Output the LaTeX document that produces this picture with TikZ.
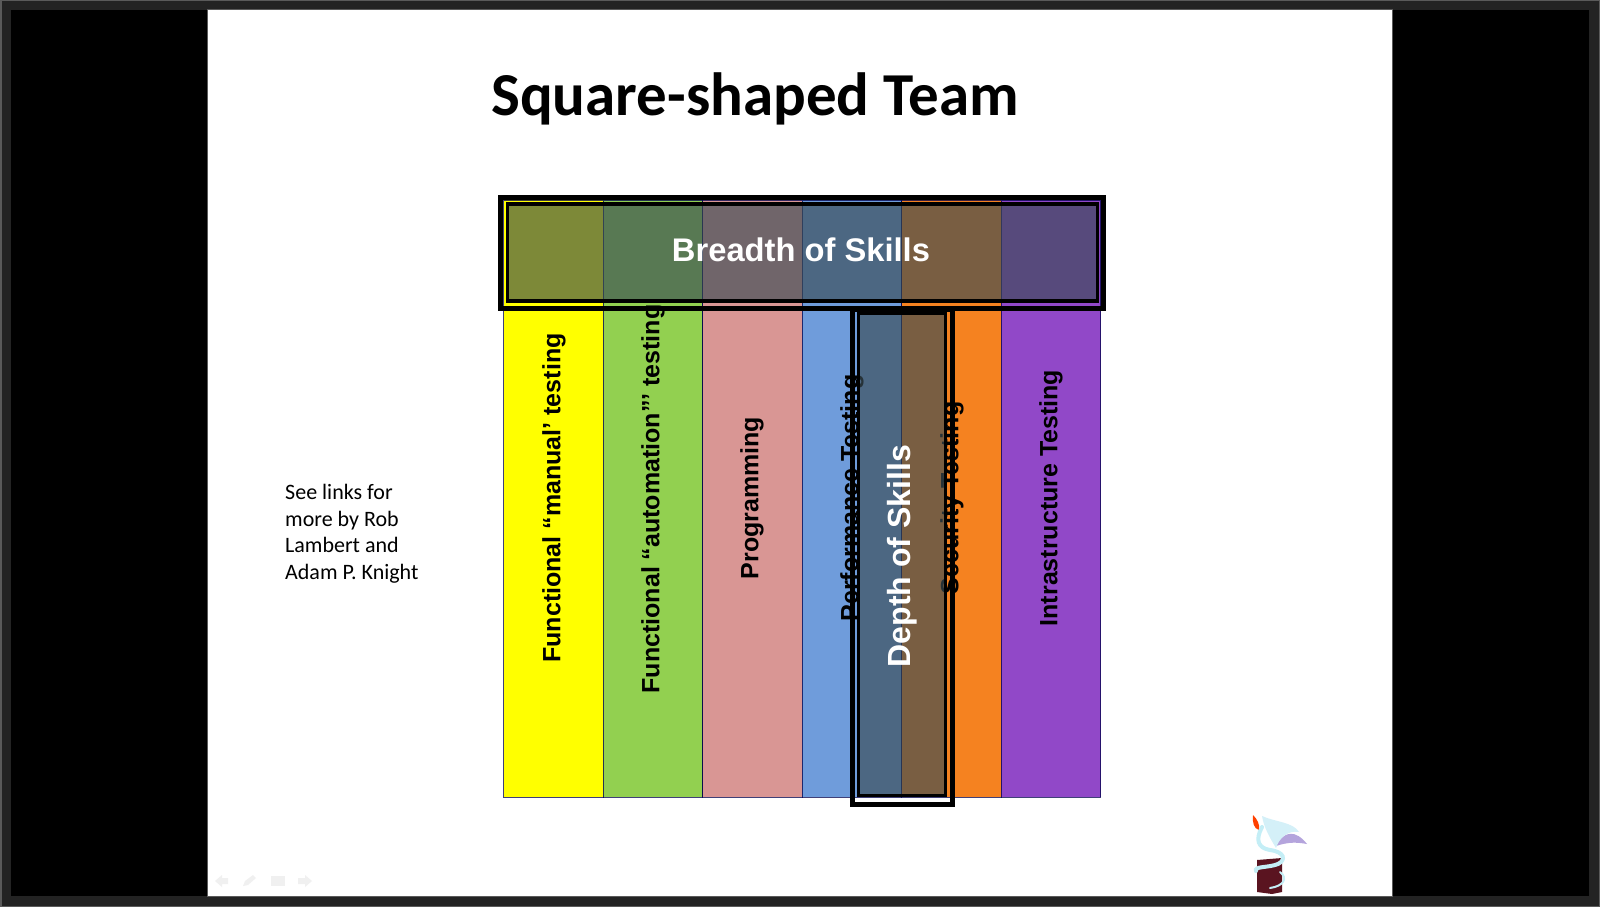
\documentclass[tikz,border=0pt]{standalone}
\usepackage{fontspec}
\setmainfont{Liberation Sans}
\newfontfamily\slidefont{Carlito}
\usepackage{tikz}
\usetikzlibrary{positioning}
\definecolor{frameedge}{HTML}{5A5A5A}
\definecolor{framegray}{HTML}{232323}
\definecolor{colyellow}{HTML}{FFFF00}
\definecolor{colgreen}{HTML}{92D050}
\definecolor{colrose}{HTML}{D99694}
\definecolor{colblue}{HTML}{6F9CDB}
\definecolor{colorange}{HTML}{F58220}
\definecolor{colpurple}{HTML}{9148C8}
\definecolor{overlay}{HTML}{3A4C55}
\definecolor{navgray}{HTML}{F0F0F0}
\definecolor{trunkred}{HTML}{5A1420}
\definecolor{dragonblue}{HTML}{C4EEF6}
\definecolor{wingblue}{HTML}{D4F0F8}
\definecolor{winglilac}{HTML}{B4A4DC}

\begin{document}
\begin{tikzpicture}[x=1pt, y=-1pt,
          skill/.style={draw=black!70!blue, draw opacity=0.75, line width=0.8pt, rectangle, inner sep=0pt, minimum width=99.5pt, minimum height=597pt},
          skilltext/.style={rotate=90, inner sep=0pt, font=\fontsize{25}{25}\bfseries\selectfont},
          boxouter/.style={draw=black, rectangle, inner sep=0pt},
          boxinner/.style={draw=black, fill=overlay, fill opacity=0.66, draw opacity=1, text opacity=1, rectangle, inner sep=0pt}
        ]
        \useasboundingbox (0,0) rectangle (1600,907);
        % marco de la pantalla
        \fill[frameedge] (0,0) rectangle (1600,907);
        \fill[framegray] (1.5,1.5) rectangle (1598.5,905.5);
        \fill[black] (11,10) rectangle (1589,896);
        \fill[frameedge] (207,9) rectangle (1393,897);
        \fill[white] (208,10) rectangle (1392,896);

        \node[font=\slidefont\fontsize{61}{61}\bfseries\selectfont] (title) at (755,99) {Square-shaped Team};

        % columnas
        \node[skill, fill=colyellow] (manual)   at (553.3,498.5) {};
        \node[skill, fill=colgreen]  (auto)     at (652.8,498.5) {};
        \node[skill, fill=colrose]   (prog)     at (752.3,498.5) {};
        \node[skill, fill=colblue]   (perf)     at (851.8,498.5) {};
        \node[skill, fill=colorange] (security) at (951.3,498.5) {};
        \node[skill, fill=colpurple] (infra)    at (1050.8,498.5) {};

        \node[skilltext] (manualtext)   at (554,498) {Functional “manual’ testing};
        \node[skilltext] (autotext)     at (653,499) {Functional “automation”’ testing};
        \node[skilltext] (progtext)     at (752,498) {Programming};
        \node[skilltext] (perftext)     at (852,498) {Performance Testing};
        \node[skilltext] (securitytext) at (952,498) {Security Testing};
        \node[skilltext] (infratext)    at (1051,498) {Intrastructure Testing};

        % recuadros de amplitud y profundidad
        \node[boxinner, line width=3pt, minimum width=87pt, minimum height=482pt] (depth) at (902,554.7) {};
        \node[boxouter, line width=5pt, minimum width=100pt, minimum height=495pt] (depthframe) at (902,557.4) {};
        \node[boxinner, line width=3.5pt, minimum width=590pt, minimum height=97pt] (breadth) at (802.7,252.7) {};
        \node[boxouter, line width=5pt, minimum width=602.5pt, minimum height=111pt] (breadthframe) at (802.2,252.7) {};
        \node[text=white, font=\fontsize{32.7}{33}\bfseries\selectfont] (breadthtext) at (801,250) {Breadth of Skills};
        \node[text=white, rotate=90, font=\fontsize{32}{32}\selectfont\bfseries] (depthtext) at (902,556) {Depth of Skills};

        % nota
        \node[align=left, anchor=north west, inner sep=0pt, font=\slidefont\fontsize{22}{26.6}\selectfont] (note) at (285,484) {See links for\\more by Rob\\Lambert and\\Adam P. Knight};

        % dragon
        \fill[red!50!orange] (1253,815) .. controls (1252,822) and (1254,829) .. (1259,830) .. controls (1260,824) and (1257,819) .. (1253,815);
        \fill[winglilac] (1276,846) .. controls (1284,830) and (1296,830) .. (1307,844) .. controls (1296,842) and (1288,842) .. (1276,846);
        \fill[wingblue] (1262,816) .. controls (1275,822) and (1293,822) .. (1299,832) .. controls (1288,830) and (1279,838) .. (1276,848) .. controls (1270,838) and (1264,828) .. (1262,816);
        \fill[trunkred] (1257,860) -- (1282,858) -- (1282,892) -- (1272,894) -- (1257,892) -- cycle;
        \draw[dragonblue, line width=4pt, line cap=round] (1262,827) .. controls (1255,840) and (1258,848) .. (1270,850) .. controls (1285,852) and (1286,860) .. (1278,864) .. controls (1268,868) and (1254,866) .. (1256,871);
        \draw[dragonblue, line width=2pt, line cap=round] (1280,872) .. controls (1288,878) and (1284,886) .. (1270,888);

        % botones de navegacion
        \fill[navgray] (215,881) -- (222,875) -- (222,878) -- (228,878) -- (228,884) -- (222,884) -- (222,887) -- cycle;
        \fill[navgray] (243,886) -- (245,881) -- (253,875) -- (256,878) -- (248,885) -- cycle;
        \fill[navgray] (271,876) rectangle (285,886);
        \fill[navgray] (312,881) -- (305,875) -- (305,878) -- (298,878) -- (298,884) -- (305,884) -- (305,887) -- cycle;
      \end{tikzpicture}
\end{document}
